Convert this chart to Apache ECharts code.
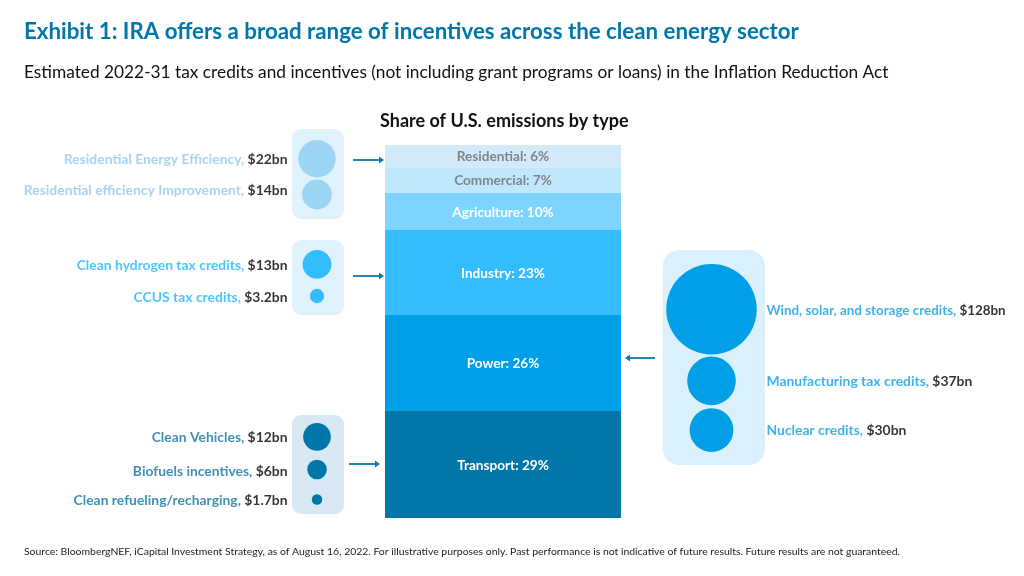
<!DOCTYPE html>
<html>
<head>
<meta charset="utf-8">
<style>
  html, body { margin: 0; padding: 0; background: #fff; }
  #chart { width: 1024px; height: 576px; }
</style>
<script src="https://cdn.jsdelivr.net/npm/echarts@6/dist/echarts.min.js"></script>
</head>
<body>
<div id="chart"></div>
<script>
// emissions share, bottom of the stack first
const sectors = ['Transport', 'Power', 'Industry', 'Agriculture', 'Commercial', 'Residential'];
const sectorShares = [29, 26, 23, 10, 7, 6];

// incentives in $bn, one pair of lists per bubble group
const residentialNames = ['Residential Energy Efficiency', 'Residential efficiency Improvement'];
const residentialValues = [22, 14];
const industryNames = ['Clean hydrogen tax credits', 'CCUS tax credits'];
const industryValues = [13, 3.2];
const transportNames = ['Clean Vehicles', 'Biofuels incentives', 'Clean refueling/recharging'];
const transportValues = [12, 6, 1.7];
const powerNames = ['Wind, solar, and storage credits', 'Manufacturing tax credits', 'Nuclear credits'];
const powerValues = [128, 37, 30];

const FONT = 'Lato';
const sectorColors = ['#0076a9', '#009fe8', '#33bdfe', '#7dd4fe', '#bfe8fd', '#d3eaf9'];
const sectorTextColors = ['#fff', '#fff', '#fff', '#fff', '#808589', '#808589'];

// bubble area follows the dollar value
const bubbleSize = v => 8 * Math.sqrt(v);

// nudge moves a row's label off its bubble centre, the original is not quite aligned
const groups = [
  { names: residentialNames, values: residentialValues, x: 317, top: 140, gaps: [2], nudge: [0, -5], labelX: 288, side: 'left', color: '#9dd6f5', text: '#94c8ec' },
  { names: industryNames, values: industryValues, x: 317, top: 250, gaps: [10], nudge: [0, 1], labelX: 288, side: 'left', color: '#33bdfe', text: '#22b6fd' },
  { names: transportNames, values: transportValues, x: 317, top: 423, gaps: [9, 15], nudge: [0, 1, 0], labelX: 288, side: 'left', color: '#0076a9', text: '#0f74a6' },
  { names: powerNames, values: powerValues, x: 711.5, top: 264, gaps: [2, 3], nudge: [0, 0, -1], labelX: 766, side: 'right', color: '#009fe8', text: '#0e9fe6', firstRowSize: 13.4 }
];

// stack the bubbles of a group downwards from its top edge
function bubbleRows(group) {
  let y = group.top;
  return group.values.map((v, i) => {
    const d = bubbleSize(v);
    const row = { name: group.names[i], value: v, centre: y + d / 2 };
    y += d + (group.gaps[i] || 0);
    return row;
  });
}

const barSeries = sectors.map((name, i) => ({
  name: name,
  type: 'bar',
  stack: 'share',
  barWidth: '100%',
  xAxisIndex: 0,
  yAxisIndex: 0,
  silent: true,
  itemStyle: { color: sectorColors[i] },
  label: {
    show: true,
    position: 'inside',
    offset: [0, 1],
    formatter: p => p.seriesName + ': ' + p.value + '%',
    color: sectorTextColors[i],
    fontFamily: FONT,
    fontWeight: 'bold',
    fontSize: 13.6
  },
  data: [sectorShares[i]]
}));

const bubbleSeries = [];
groups.forEach(group => {
  const rows = bubbleRows(group);
  const size = group.firstRowSize || 13.9;
  bubbleSeries.push({
    type: 'scatter',
    xAxisIndex: 1,
    yAxisIndex: 1,
    silent: true,
    symbolSize: (val, p) => bubbleSize(rows[p.dataIndex].value),
    itemStyle: { color: group.color, opacity: 1 },
    data: rows.map(r => [group.x, r.centre])
  });
  // labels sit on their own invisible points so they line up whatever the bubble size
  bubbleSeries.push({
    type: 'scatter',
    xAxisIndex: 1,
    yAxisIndex: 1,
    silent: true,
    symbolSize: 1,
    itemStyle: { color: 'rgba(0,0,0,0)' },
    label: {
      show: true,
      position: group.side,
      distance: 0,
      offset: [0, 1],
      formatter: p => {
        const s = p.dataIndex === 0 ? '' : '2';
        return '{n' + s + '|' + rows[p.dataIndex].name + ', }{v' + s + '|$' + rows[p.dataIndex].value + 'bn}';
      },
      rich: {
        n: { color: group.text, fontFamily: FONT, fontWeight: 'bold', fontSize: size },
        v: { color: '#000', fontFamily: FONT, fontWeight: 'bold', fontSize: size },
        n2: { color: group.text, fontFamily: FONT, fontWeight: 'bold', fontSize: 13.9 },
        v2: { color: '#000', fontFamily: FONT, fontWeight: 'bold', fontSize: 13.9 }
      }
    },
    data: rows.map((r, i) => [group.labelX, r.centre + group.nudge[i]])
  });
});

function panel(x, y, w, h, r, fill) {
  return { type: 'rect', z: 0, shape: { x: x, y: y, width: w, height: h, r: r }, style: { fill: fill } };
}

function arrow(x1, x2, y) {
  const dir = x2 > x1 ? 1 : -1;
  return {
    type: 'group',
    z: 5,
    children: [
      { type: 'line', shape: { x1: x1, y1: y, x2: x2 - dir * 4, y2: y }, style: { stroke: '#0f78a8', lineWidth: 1.8 } },
      { type: 'polygon', shape: { points: [[x2, y], [x2 - dir * 5, y - 3.5], [x2 - dir * 5, y + 3.5]] }, style: { fill: '#0f78a8' } }
    ]
  };
}

const chart = echarts.init(document.getElementById('chart'));
chart.setOption({
  animation: false,
  backgroundColor: '#fff',
  title: [
    { text: 'Exhibit 1: IRA offers a broad range of incentives across the clean energy sector', left: 24, top: 21, padding: 0,
      textStyle: { color: '#0077a8', fontFamily: FONT, fontWeight: 'bold', fontSize: 22.3 } },
    { text: 'Estimated 2022-31 tax credits and incentives (not including grant programs or loans) in the Inflation Reduction Act', left: 24, top: 64, padding: 0,
      textStyle: { color: '#111', fontFamily: FONT, fontWeight: 'normal', fontSize: 17.3 } },
    { text: 'Share of U.S. emissions by type', left: 380, top: 112, padding: 0,
      textStyle: { color: '#111', fontFamily: FONT, fontWeight: 'bold', fontSize: 18 } },
    { text: 'Source: BloombergNEF, iCapital Investment Strategy, as of August 16, 2022. For illustrative purposes only. Past performance is not indicative of future results. Future results are not guaranteed.', left: 24, top: 547, padding: 0,
      textStyle: { color: '#222', fontFamily: FONT, fontWeight: 'normal', fontSize: 10.43 } }
  ],
  grid: [
    { left: 385, top: 145, width: 236, height: 373 },
    { left: 0, top: 0, width: 1024, height: 576 }
  ],
  xAxis: [
    { type: 'category', gridIndex: 0, data: ['Share'], show: false },
    { type: 'value', gridIndex: 1, min: 0, max: 1024, show: false }
  ],
  yAxis: [
    { type: 'value', gridIndex: 0, min: 0, max: 101, show: false },
    { type: 'value', gridIndex: 1, min: 0, max: 576, inverse: true, show: false }
  ],
  graphic: [
    panel(292, 129, 52, 90, 9, '#e0f3fd'),
    panel(292, 240, 52, 75, 9, '#e0f3fd'),
    panel(292, 415, 52, 99, 9, '#d9e9f4'),
    panel(663, 250, 102, 215, 16, '#daf0fc'),
    arrow(353, 384, 160),
    arrow(353, 384, 276),
    arrow(349, 380, 464),
    arrow(655, 625, 358)
  ],
  series: barSeries.concat(bubbleSeries)
});
window.addEventListener('resize', () => chart.resize());
</script>
</body>
</html>
